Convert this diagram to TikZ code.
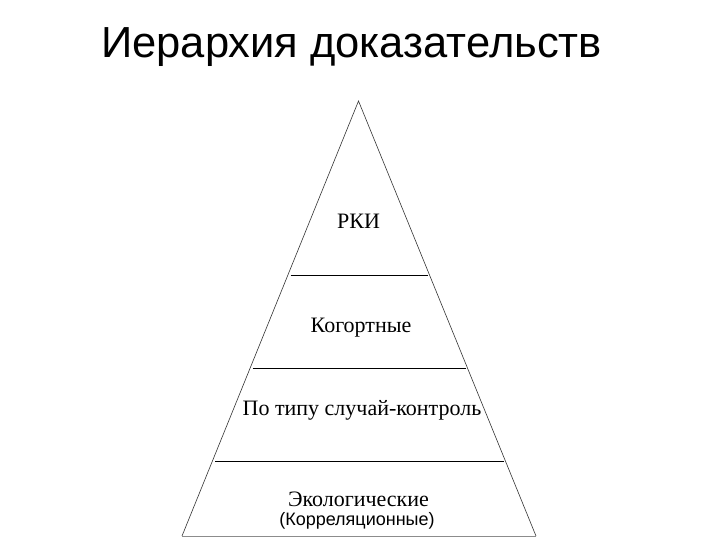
\documentclass[tikz,border=0pt]{standalone}
\usepackage{fontspec}
\setmainfont{Liberation Serif}
\setsansfont{Liberation Sans}
\begin{document}
\begin{tikzpicture}[x=1pt,y=1pt,
  level/.style={font=\fontsize{22}{25}\selectfont\rmfamily, inner sep=0pt, anchor=base},
  sep/.style={draw=black, line width=0.9pt},
  side/.style={draw=black!80, line width=0.6pt}]
\useasboundingbox (0,0) rectangle (720,540);
\fill[white] (0,0) rectangle (720,540);
% title
\node[font=\fontsize{43.5}{48}\selectfont\sffamily, inner sep=0pt, anchor=base west] (title) at (101,482.5) {Иерархия доказательств};
% triangle
\coordinate (apex) at (358.5,439);
\coordinate (bl) at (182,4);
\coordinate (br) at (536,4);
\draw[side] (bl) -- (apex) -- (br);
\draw[draw=black!45, line width=0.8pt] (bl) -- (br);
% separators
\coordinate (s1l) at (290.5,265); \coordinate (s1r) at (427.5,265);
\coordinate (s2l) at (252.5,172); \coordinate (s2r) at (466,172);
\coordinate (s3l) at (215,79); \coordinate (s3r) at (504,79);
\draw[sep] (s1l) -- (s1r);
\draw[sep] (s2l) -- (s2r);
\draw[sep] (s3l) -- (s3r);
% labels
\node[level] (rki) at (358.5,311.5) {РКИ};
\node[level] (kog) at (361,207) {Когортные};
\node[level] (case) at (362,124.5) {По типу случай-контроль};
\node[level] (eco) at (358.5,33) {Экологические};
\node[font=\fontsize{18}{20}\selectfont\sffamily, inner sep=0pt, anchor=base] (corr) at (357,14) {(Корреляционные)};
\end{tikzpicture}
\end{document}
